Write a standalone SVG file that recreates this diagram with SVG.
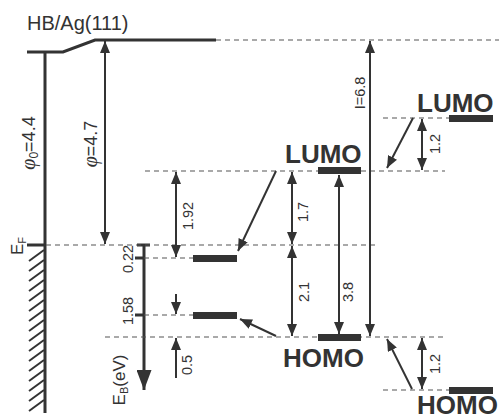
<svg xmlns="http://www.w3.org/2000/svg" width="499" height="420" viewBox="0 0 499 420">
<style>
.ln{stroke:#333;stroke-width:2;fill:none}
.thick{stroke:#333;stroke-width:3;fill:none}
.dash{stroke:#555;stroke-width:1.2;stroke-dasharray:5 4;fill:none}
.bar{fill:#333}
.num{font-family:"Liberation Sans",Arial,sans-serif;font-size:14.5px;fill:#333;text-anchor:middle}
.lbl{font-family:"Liberation Sans",Arial,sans-serif;font-size:26px;font-weight:bold;fill:#333}
.phi{font-family:"Liberation Sans",Arial,sans-serif;font-size:18px;fill:#333;text-anchor:middle}
.hatch{stroke:#333;stroke-width:2}
</style>
<defs>
<marker id="ah" viewBox="0 0 12 10" refX="12" refY="5" markerWidth="12" markerHeight="10" markerUnits="userSpaceOnUse" orient="auto-start-reverse">
<path d="M0,0 L12,5 L0,10 Z" fill="#333"/>
</marker>
<marker id="ahb" viewBox="0 0 20 15" refX="20" refY="7.5" markerWidth="20" markerHeight="15" markerUnits="userSpaceOnUse" orient="auto">
<path d="M0,0 L20,7.5 L0,15 Z" fill="#333"/>
</marker>
</defs>

<g id="title">
<text x="27" y="30" font-family="'Liberation Sans',Arial,sans-serif" font-size="20" fill="#333">HB/Ag(111)</text>
</g>

<g id="substrate">
<polyline class="thick" points="27,52 63,52 95,40 216,40"/>
<line class="thick" x1="45" y1="52" x2="45" y2="413"/>
<line class="thick" x1="27" y1="245" x2="45" y2="245"/>
<g class="hatch">
<line x1="29" y1="261" x2="44" y2="250"/><line x1="29" y1="271" x2="44" y2="260"/>
<line x1="29" y1="281" x2="44" y2="270"/><line x1="29" y1="291" x2="44" y2="280"/>
<line x1="29" y1="301" x2="44" y2="290"/><line x1="29" y1="311" x2="44" y2="300"/>
<line x1="29" y1="321" x2="44" y2="310"/><line x1="29" y1="331" x2="44" y2="320"/>
<line x1="29" y1="341" x2="44" y2="330"/><line x1="29" y1="351" x2="44" y2="340"/>
<line x1="29" y1="361" x2="44" y2="350"/><line x1="29" y1="371" x2="44" y2="360"/>
<line x1="29" y1="381" x2="44" y2="370"/><line x1="29" y1="391" x2="44" y2="380"/>
<line x1="29" y1="401" x2="44" y2="390"/><line x1="29" y1="411" x2="44" y2="400"/>
</g>
<text transform="translate(23,246) rotate(-90)" font-family="'Liberation Sans',Arial,sans-serif" font-size="17" fill="#333" text-anchor="middle">E<tspan font-size="11" dy="3">F</tspan></text>
<text class="phi" transform="translate(35,143) rotate(-90)"><tspan font-family="'Liberation Serif',serif" font-style="italic" font-size="20">φ</tspan><tspan font-size="12" dy="3">0</tspan><tspan dy="-3">=4.4</tspan></text>
</g>

<g id="eb-axis">
<line class="thick" x1="144" y1="245" x2="144" y2="390" marker-end="url(#ahb)"/>
<line class="thick" x1="137" y1="245" x2="150" y2="245"/>
<line class="thick" x1="135" y1="258" x2="144" y2="258"/>
<line class="thick" x1="135" y1="315" x2="144" y2="315"/>
<text class="num" transform="translate(133,259) rotate(-90)">0.22</text>
<text class="num" transform="translate(133,311) rotate(-90)">1.58</text>
<text transform="translate(125,380) rotate(-90)" font-family="'Liberation Sans',Arial,sans-serif" font-size="17" fill="#333" text-anchor="middle">E<tspan font-size="11" dy="3">B</tspan><tspan dy="-3">(eV)</tspan></text>
</g>

<g id="connectors">
<line class="dash" x1="216" y1="40" x2="499" y2="40"/>
<line class="dash" x1="383" y1="118" x2="449" y2="118"/>
<line class="dash" x1="145" y1="171" x2="445" y2="171"/>
<line class="dash" x1="46" y1="245" x2="377" y2="245"/>
<line class="dash" x1="144" y1="258" x2="193" y2="258"/>
<line class="dash" x1="144" y1="315" x2="193" y2="315"/>
<line class="dash" x1="105" y1="337" x2="443" y2="337"/>
<line class="dash" x1="383" y1="390" x2="449" y2="390"/>

<line class="ln" x1="105" y1="41" x2="105" y2="244" marker-start="url(#ah)" marker-end="url(#ah)"/>
<line class="ln" x1="370" y1="41" x2="370" y2="336" marker-start="url(#ah)" marker-end="url(#ah)"/>
<line class="ln" x1="176" y1="172" x2="176" y2="257" marker-start="url(#ah)" marker-end="url(#ah)"/>
<line class="ln" x1="292" y1="172" x2="292" y2="244" marker-start="url(#ah)" marker-end="url(#ah)"/>
<line class="ln" x1="292" y1="246" x2="292" y2="336" marker-start="url(#ah)" marker-end="url(#ah)"/>
<line class="ln" x1="339" y1="175" x2="339" y2="334" marker-start="url(#ah)" marker-end="url(#ah)"/>
<line class="ln" x1="422" y1="119" x2="422" y2="170" marker-start="url(#ah)" marker-end="url(#ah)"/>
<line class="ln" x1="422" y1="338" x2="422" y2="389" marker-start="url(#ah)" marker-end="url(#ah)"/>
<line class="ln" x1="176" y1="294" x2="176" y2="314" marker-end="url(#ah)"/>
<line class="ln" x1="176" y1="378" x2="176" y2="338" marker-end="url(#ah)"/>
<line class="ln" x1="276" y1="171" x2="238" y2="251" marker-end="url(#ah)"/>
<line class="ln" x1="413" y1="118" x2="387" y2="168" marker-end="url(#ah)"/>
<line class="ln" x1="276" y1="336" x2="240" y2="319" marker-end="url(#ah)"/>
<line class="ln" x1="412" y1="389" x2="387" y2="339" marker-end="url(#ah)"/>

<text class="phi" transform="translate(97,144) rotate(-90)"><tspan font-family="'Liberation Serif',serif" font-style="italic" font-size="20">φ</tspan>=4.7</text>
<text class="num" transform="translate(365,93) rotate(-90)">I=6.8</text>
<text class="num" transform="translate(193,216) rotate(-90)">1.92</text>
<text class="num" transform="translate(308,212) rotate(-90)">1.7</text>
<text class="num" transform="translate(309,292) rotate(-90)">2.1</text>
<text class="num" transform="translate(353,292) rotate(-90)">3.8</text>
<text class="num" transform="translate(440,144) rotate(-90)">1.2</text>
<text class="num" transform="translate(440,364) rotate(-90)">1.2</text>
<text class="num" transform="translate(192,365) rotate(-90)">0.5</text>
</g>

<g id="interface-states">
<rect class="bar" x="193" y="255" width="44" height="7"/>
<rect class="bar" x="193" y="312" width="44" height="7"/>
</g>

<g id="hb-lumo">
<rect class="bar" x="318" y="167" width="43" height="7"/>
<text class="lbl" x="285" y="163">LUMO</text>
</g>
<g id="hb-homo">
<rect class="bar" x="318" y="334" width="43" height="7"/>
<text class="lbl" x="283" y="367">HOMO</text>
</g>
<g id="gas-lumo">
<rect class="bar" x="449" y="115" width="44" height="7"/>
<text class="lbl" x="417" y="112">LUMO</text>
</g>
<g id="gas-homo">
<rect class="bar" x="449" y="387" width="44" height="7"/>
<text class="lbl" x="417" y="414" font-size="24">HOMO</text>
</g>
</svg>
